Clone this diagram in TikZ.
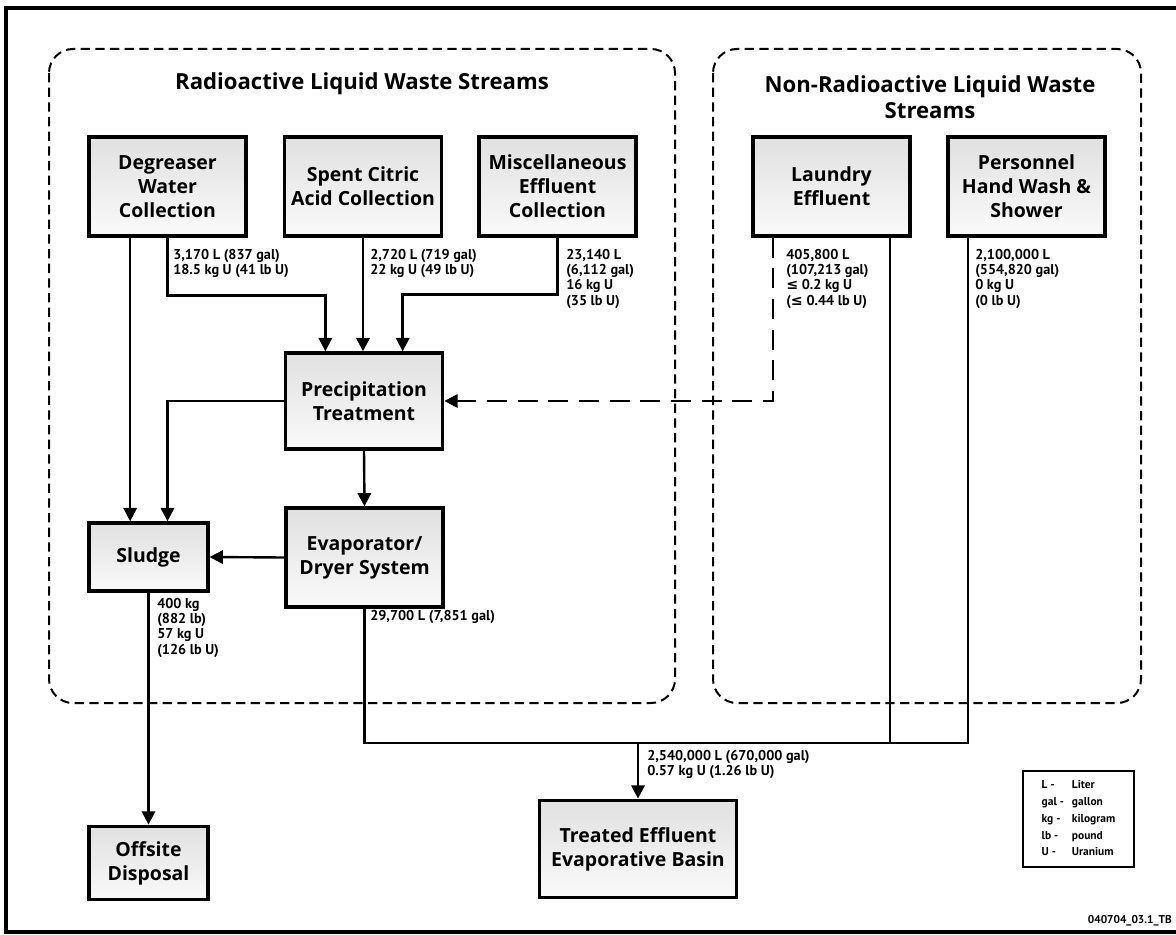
\documentclass[tikz,border=0pt]{standalone}
\usepackage{fontspec}
\setmainfont{PT Sans}
\newfontfamily\labelfont{Open Sans}
\newfontfamily\symfont{DejaVu Sans}
\usetikzlibrary{arrows.meta}
\newcommand{\lesseq}{{\symfont\bfseries ≤}}
\begin{document}
\begin{tikzpicture}[
            x = 0.75pt, y = -0.75pt,
            every node/.style = {inner sep=0pt},
            unit/.style = {draw, line width=2.6pt, align=center, top color=black!12, bottom color=black!2,
                font=\labelfont\bfseries\fontsize{14.6}{18}\selectfont, minimum width=118pt, minimum height=74pt},
            flow/.style = {line width=1.8pt, -{Triangle[length=10pt, width=10pt]}},
            pipe/.style = {line width=1.8pt},
            amount/.style = {anchor=north west, align=left, font=\bfseries\fontsize{10.7}{11.4}\selectfont},
            zone/.style = {draw, line width=1.5pt, rounded corners=18pt, dash pattern=on 7pt off 4pt},
            heading/.style = {align=center, font=\labelfont\bfseries\fontsize{16.6}{19.5}\selectfont}]
            \useasboundingbox (0,0) rectangle (1176,934);
            \draw[line width=2.6pt] (1180,8) -- (6,8) -- (6,932) -- (1180,932);
            \draw[zone] (49,49) rectangle (675,703);
            \draw[zone] (713,49) rectangle (1141,703);
            \node[heading] (radtitle) at (362,84) {Radioactive Liquid Waste Streams};
            \node[heading] (nontitle) at (930,97) {Non-Radioactive Liquid Waste\\Streams};

            \node[unit] (degr) at (167.5,186.5) {Degreaser\\Water\\Collection};
            \node[unit] (citric) at (363,186.5) {Spent Citric\\Acid Collection};
            \node[unit] (misc) at (557.5,186.5) {Miscellaneous\\Effluent\\Collection};
            \node[unit] (laundry) at (831.5,186.5) {Laundry\\Effluent};
            \node[unit] (pers) at (1026.5,186.5) {Personnel\\Hand Wash \&\\Shower};
            \node[unit, minimum height=72pt] (precip) at (364,401) {Precipitation\\Treatment};
            \node[unit] (evap) at (364.5,557.5) {Evaporator/\\Dryer System};
            \node[unit, minimum width=89pt, minimum height=51pt] (sludge) at (148.5,557) {Sludge};
            \node[unit, minimum width=89pt, minimum height=55pt] (offsite) at (148.5,863) {Offsite\\Disposal};
            \node[unit, minimum width=148pt, minimum height=73pt] (treated) at (638,849) {Treated Effluent\\Evaporative Basin};

            \node[amount] (degrq) at (173,249) {3,170 L (837 gal)\\18.5 kg U (41 lb U)};
            \node[amount] (citricq) at (370,249) {2,720 L (719 gal)\\22 kg U (49 lb U)};
            \node[amount] (miscq) at (566,249) {23,140 L\\(6,112 gal)\\16 kg U\\(35 lb U)};
            \node[amount] (laundryq) at (786,249) {405,800 L\\(107,213 gal)\\\lesseq\ 0.2 kg U\\(\lesseq\ 0.44 lb U)};
            \node[amount] (persq) at (975,249) {2,100,000 L\\(554,820 gal)\\0 kg U\\(0 lb U)};
            \node[amount] (sludgeq) at (157,598) {400 kg\\(882 lb)\\57 kg U\\(126 lb U)};
            \node[amount] (evapq) at (370,610) {29,700 L (7,851 gal)};
            \node[amount] (treatedq) at (647,750) {2,540,000 L (670,000 gal)\\0.57 kg U (1.26 lb U)};

            \node[draw, line width=1.5pt, minimum width=83pt, minimum height=72pt,
                font=\bfseries\fontsize{8.6}{12.6}\selectfont] (legend) at (1078.5,819)
                {\begin{tabular}{@{}l@{\hspace{6pt}}l@{}}L -&Liter\\gal -&gallon\\kg -&kilogram\\lb -&pound\\U -&Uranium\end{tabular}};
            \node[anchor=east, font=\bfseries\fontsize{8.5}{9}\selectfont] (figid) at (1172,921) {040704\_03.1\_TB};

            \coordinate (join) at (638,743);
            \draw[flow] ([xshift=-28pt]degr.south) -- ([xshift=-28pt]degr.south |- sludge.north);
            \draw[flow] (degr.south) -- ++(0,58) -| ([xshift=-29pt]precip.north);
            \draw[flow] (citric.south) -- (citric.south |- precip.north);
            \draw[flow] (misc.south) -- ++(0,57) -| ([xshift=29pt]precip.north);
            \draw[flow, dash pattern=on 15pt off 8pt] ([xshift=-44pt]laundry.south) |- (precip.east);
            \draw[flow] (precip.west) -| (sludge.north -| degr.south);
            \draw[flow] (precip.south) -- (evap.north);
            \draw[flow] (evap.west) -- (sludge.east);
            \draw[flow] (sludge.south) -- (offsite.north);
            \draw[pipe] (evap.south) |- (join);
            \draw[pipe] ([xshift=44pt]laundry.south) -- ([xshift=44pt]laundry.south |- join);
            \draw[pipe] ([xshift=-44pt]pers.south) |- (join);
            \draw[flow] (join) -- (treated.north);
        \end{tikzpicture}
\end{document}
